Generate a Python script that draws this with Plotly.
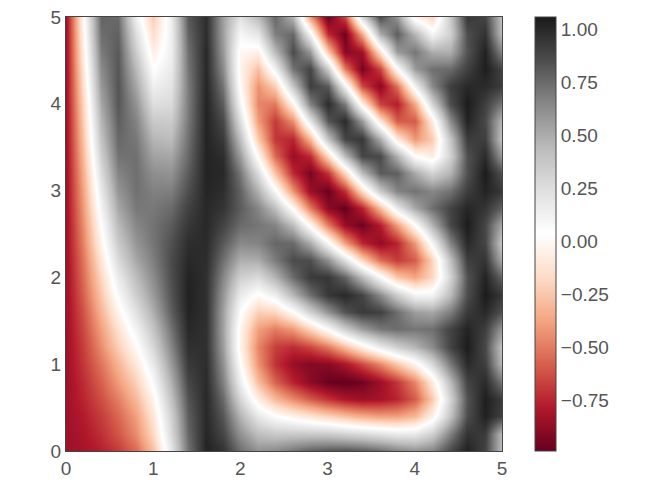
import plotly.graph_objects as go

# Hand-typed estimates on a coarse 26x26 lattice (the reference shows about 50x50 cells).
x_values = [0, .2, .4, .6, .8, 1, 1.2, 1.4, 1.6, 1.8, 2, 2.2, 2.4, 2.6, 2.8, 3, 3.2, 3.4, 3.6, 3.8, 4, 4.2, 4.4, 4.6, 4.8, 5]
y_values = list(x_values)
z_rows = [
[-.84,-.82,-.77,-.69,-.55,-.28,.19,.72,1.02,.96,.74,.61,.64,.72,.79,.83,.84,.81,.75,.67,.61,.66,.87,1.03,.89,.42],
[-.84,-.80,-.72,-.61,-.45,-.18,.27,.76,1.01,.88,.61,.42,.37,.37,.37,.36,.32,.28,.23,.18,.19,.33,.67,.96,.92,.43],
[-.84,-.78,-.68,-.56,-.39,-.11,.32,.79,1.0,.82,.47,.19,.05,-.04,-.12,-.20,-.28,-.35,-.39,-.39,-.31,-.06,.39,.85,1.03,.90],
[-.84,-.75,-.63,-.49,-.30,-.03,.40,.83,1.0,.75,.30,-.07,-.30,-.46,-.59,-.71,-.80,-.84,-.82,-.75,-.59,-.24,.30,.83,1.04,.92],
[-.84,-.73,-.58,-.40,-.21,.07,.48,.88,.99,.67,.15,-.29,-.57,-.76,-.89,-.98,-1.0,-.96,-.85,-.70,-.47,-.09,.43,.89,.99,.70],
[-.84,-.70,-.52,-.32,-.10,.18,.57,.93,.98,.61,.04,-.43,-.71,-.86,-.91,-.90,-.81,-.65,-.47,-.25,-.03,.28,.69,.99,.91,.44],
[-.84,-.68,-.45,-.22,.01,.29,.65,.97,.97,.56,-.03,-.47,-.68,-.73,-.66,-.51,-.29,-.06,.16,.33,.46,.63,.89,1.05,.87,.39],
[-.84,-.65,-.39,-.13,.12,.39,.72,1.0,.97,.54,-.02,-.39,-.50,-.41,-.20,.06,.34,.56,.70,.74,.71,.73,.89,1.02,.91,.58],
[-.84,-.62,-.32,-.03,.23,.49,.79,1.02,.97,.55,.05,-.22,-.19,.02,.32,.60,.83,.93,.90,.74,.56,.52,.68,.93,1.0,.84],
[-.84,-.58,-.25,.07,.34,.57,.83,1.03,.97,.59,.17,.01,.15,.45,.73,.94,1.0,.89,.64,.35,.11,.11,.43,.85,1.05,.94],
[-.84,-.55,-.18,.17,.43,.63,.85,1.02,.97,.65,.33,.27,.47,.75,.93,.94,.77,.44,.07,-.25,-.37,-.19,.30,.83,1.02,.77],
[-.84,-.52,-.11,.27,.52,.68,.86,1.0,.98,.73,.49,.50,.69,.86,.85,.61,.24,-.19,-.54,-.69,-.59,-.20,.40,.91,.95,.50],
[-.84,-.48,-.03,.36,.59,.71,.84,.98,.99,.81,.64,.66,.76,.75,.51,.08,-.39,-.74,-.88,-.75,-.41,.09,.65,1.0,.88,.37],
[-.84,-.45,.04,.44,.65,.72,.80,.94,1.0,.89,.75,.71,.66,.43,0,-.50,-.86,-.97,-.78,-.40,.03,.47,.87,1.05,.88,.51],
[-.84,-.41,.11,.52,.70,.70,.75,.90,1.0,.95,.80,.65,.42,0,-.50,-.89,-.99,-.76,-.30,.18,.52,.73,.89,1.01,.95,.78],
[-.84,-.38,.18,.59,.73,.67,.68,.85,1.01,.98,.78,.48,.08,-.43,-.85,-.98,-.72,-.16,.36,.66,.72,.65,.72,.91,1.02,.94],
[-.84,-.34,.26,.66,.73,.62,.60,.80,1.02,1.0,.71,.26,-.27,-.74,-.94,-.71,-.18,.43,.80,.79,.51,.31,.46,.84,1.05,.84],
[-.84,-.30,.33,.72,.73,.54,.52,.76,1.02,.98,.57,0,-.55,-.86,-.74,-.17,.44,.88,.87,.48,.03,-.07,.31,.84,.99,.58],
[-.84,-.26,.40,.76,.70,.46,.43,.73,1.02,.93,.42,-.24,-.70,-.75,-.31,.40,.89,.94,.51,-.09,-.42,-.24,.38,.92,.91,.39],
[-.84,-.23,.46,.79,.66,.36,.35,.70,1.02,.87,.25,-.40,-.69,-.44,.20,.82,.99,.58,-.11,-.59,-.59,-.08,.62,1.02,.87,.45],
[-.84,-.19,.52,.82,.60,.25,.27,.69,1.02,.79,.11,-.47,-.51,-.03,.66,.99,.69,-.04,-.66,-.78,-.36,.30,.85,1.05,.91,.70],
[-.84,-.15,.58,.83,.52,.14,.21,.69,1.01,.71,.01,-.43,-.22,.39,.91,.81,.12,-.64,-.90,-.53,.13,.64,.91,1.0,.99,.92],
[-.84,-.11,.63,.82,.44,.04,.17,.71,1.0,.63,-.03,-.28,.12,.72,.89,.35,-.50,-.95,-.67,.02,.57,.73,.75,.90,1.04,.89],
[-.84,-.07,.69,.81,.34,-.06,.14,.73,1.0,.58,-.01,-.05,.44,.86,.59,-.24,-.91,-.84,-.13,.56,.71,.50,.49,.83,1.03,.65],
[-.84,-.03,.74,.78,.24,-.15,.13,.77,.98,.55,.09,.20,.68,.76,.11,-.73,-.97,-.36,.49,.80,.46,.10,.32,.85,.96,.42],
[-.84,0,.77,.75,.13,-.23,.15,.81,.98,.55,.22,.44,.76,.46,-.40,-.98,-.65,.28,.86,.60,-.04,-.19,.36,.94,.89,.40],
]
colorbar_ticks = [-.75, -.5, -.25, 0, .25, .5, .75, 1]
colorbar_labels = ["\u22120.75", "\u22120.50", "\u22120.25", "0.00", "0.25", "0.50", "0.75", "1.00"]
axis_ticks = [0, 1, 2, 3, 4, 5]

rdgy = ["#67001f", "#b2182b", "#d6604d", "#f4a582", "#fddbc7", "#ffffff",
        "#e0e0e0", "#bababa", "#878787", "#4d4d4d", "#1a1a1a"]
colorscale = [[i / 10, c] for i, c in enumerate(rdgy)]
font = dict(family="Liberation Sans, Arial, sans-serif", size=19, color="#555555")

fig = go.Figure(go.Heatmap(
    x=x_values, y=y_values, z=z_rows, zsmooth="best",
    colorscale=colorscale, zmin=-.99, zmax=1.057,
    colorbar=dict(
        thickness=21, thicknessmode="pixels", len=434, lenmode="pixels",
        x=1.0757, xanchor="left", y=1, yanchor="top", xpad=0, ypad=0,
        outlinecolor="#444444", outlinewidth=1, ticks="",
        tickvals=colorbar_ticks, ticktext=colorbar_labels, tickfont=font,
    ),
))
axis = dict(range=[0, 5], tickvals=axis_ticks, ticks="", showgrid=False, zeroline=False,
            showline=True, mirror=True, linecolor="#444444", linewidth=1, tickfont=font,
            ticklabeloverflow="allow", automargin=False)
fig.update_xaxes(**axis)
fig.update_yaxes(**axis)
# The page's default 8px body margin offsets the figure, so it is sized and inset to compensate.
fig.update_layout(width=646, height=490, autosize=False,
                  margin=dict(l=58, r=152, t=9, b=47),
                  paper_bgcolor="white", plot_bgcolor="white", font=font)
fig.write_html("out.html")
